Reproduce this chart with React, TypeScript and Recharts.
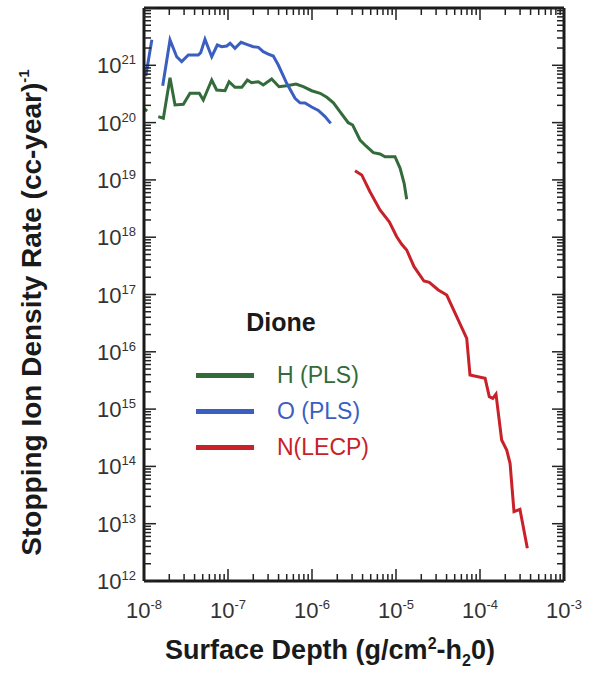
import React from 'react';
import { LineChart, Line, XAxis, YAxis, Legend } from 'recharts';

// ---- axis ticks / labels ----
const xTickValues = [1e-8, 1e-7, 1e-6, 1e-5, 1e-4, 1e-3];
const xTickExponents = ['-8', '-7', '-6', '-5', '-4', '-3'];
const yTickValues = [1e12, 1e13, 1e14, 1e15, 1e16, 1e17, 1e18, 1e19, 1e20, 1e21];
const yTickExponents = ['12', '13', '14', '15', '16', '17', '18', '19', '20', '21'];
const xDomain = [1e-8, 1e-3];
const yDomain = [1e12, 1e22];

// ---- series: H (PLS) ----
const hDepth = [1.0e-8, 1.09e-8, 1.3e-8, 1.48e-8, 1.7e-8, 2.04e-8, 2.34e-8, 2.94e-8, 3.53e-8, 4.55e-8, 5.08e-8, 6.4e-8, 7.33e-8, 9.21e-8, 1.03e-7, 1.21e-7, 1.46e-7, 1.7e-7, 1.91e-7, 2.3e-7, 2.63e-7, 3.31e-7, 4.05e-7, 5.0e-7, 6.45e-7, 7.87e-7, 9.91e-7, 1.25e-6, 1.5e-6, 1.8e-6, 2.15e-6, 2.7e-6, 3.05e-6, 3.73e-6, 4.39e-6, 5.37e-6, 6.45e-6, 7.4e-6, 9.73e-6, 1.12e-5, 1.25e-5, 1.34e-5];
const hRate = [1.76e20, 1.59e20, null, 1.27e20, 1.19e20, 6.08e20, 2.03e20, 2.09e20, 3.25e20, 3.25e20, 2.48e20, 5.54e20, 3.71e20, 3.6e20, 5.17e20, 4.13e20, 4.13e20, 5.54e20, 4.97e20, 5.17e20, 4.53e20, 5.77e20, 4.23e20, 4.41e20, 4.72e20, 4.23e20, 3.6e20, 3.25e20, 2.77e20, 2.22e20, 1.55e20, 9.96e19, 9.08e19, 4.97e19, 3.91e19, 2.99e19, 2.83e19, 2.54e19, 2.54e19, 1.59e19, 8.73e18, 4.59e18];

// ---- series: O (PLS) ----
const oDepth = [1.05e-8, 1.24e-8, 1.45e-8, 1.67e-8, 2.04e-8, 2.45e-8, 2.81e-8, 3.37e-8, 4.43e-8, 4.73e-8, 5.32e-8, 6.4e-8, 7.46e-8, 8.41e-8, 9.66e-8, 1.06e-7, 1.21e-7, 1.43e-7, 1.67e-7, 2.0e-7, 2.3e-7, 2.63e-7, 3.02e-7, 3.46e-7, 3.97e-7, 5.0e-7, 6.28e-7, 7.2e-7, 8.26e-7, 9.91e-7, 1.19e-6, 1.43e-6, 1.67e-6];
const oRate = [6.5e20, 2.8e21, null, 4.4e20, 2.77e21, 1.41e21, 1.16e21, 1.51e21, 1.51e21, 1.66e21, 2.84e21, 1.41e21, 2.26e21, 2.11e21, 2.17e21, 2.42e21, 1.98e21, 2.52e21, 2.32e21, 2.11e21, 2.06e21, 1.73e21, 1.57e21, 1.45e21, 1.01e21, 4.85e20, 2.65e20, 2.22e20, 2.2e20, 1.87e20, 1.63e20, 1.27e20, 9.7e19];

// ---- series: N (LECP) ----
const nDepth = [3.25e-6, 3.91e-6, 4.9e-6, 6.45e-6, 8.32e-6, 1.02e-5, 1.17e-5, 1.34e-5, 1.64e-5, 2.15e-5, 2.49e-5, 3.19e-5, 4.02e-5, 5.28e-5, 6.95e-5, 7.6e-5, 1.15e-4, 1.29e-4, 1.42e-4, 1.55e-4, 1.81e-4, 2.08e-4, 2.28e-4, 2.54e-4, 2.99e-4, 3.66e-4];
const nRate = [1.45e19, 1.22e19, 6.22e18, 2.98e18, 1.86e18, 1.02e18, 7.52e17, 5.98e17, 3.06e17, 1.72e17, 1.63e17, 1.2e17, 9.8e16, 4.1e16, 1.72e16, 3.94e15, 3.45e15, 1.65e15, 1.54e15, 1.83e15, 2.89e14, 1.93e14, 1.13e14, 1.62e13, 1.78e13, 3.72e12];

const seriesNames = ['H (PLS)', 'O (PLS)', 'N(LECP)'];
const seriesColors = ['#336b3b', '#3b5fc1', '#c8212a'];
const legendTitle = 'Dione';

const toRows = (xs: number[], ys: (number | null)[]) => xs.map((d, i) => ({ depth: d, rate: ys[i] }));
const hData = toRows(hDepth, hRate);
const oData = toRows(oDepth, oRate);
const nData = toRows(nDepth, nRate);

// minor tick positions (1..9 x 10^n)
const minorTicks = (lo: number, hi: number) => {
  const out: number[] = [];
  for (let e = lo; e <= hi; e++) {
    for (let m = 1; m <= 9; m++) {
      if (e === hi && m > 1) break;
      out.push(m * Math.pow(10, e));
    }
  }
  return out;
};
const xMinor = minorTicks(-8, -3);
const yMinor = minorTicks(12, 22);

const FONT = '"Liberation Sans", Arial, Helvetica, sans-serif';
const TICK_COLOR = '#333333';

const findIdx = (arr: number[], v: number) => arr.findIndex((a) => Math.abs(a - v) / a < 1e-6);
const isDecade = (v: number) => {
  const l = Math.log10(v);
  return Math.abs(l - Math.round(l)) < 1e-6;
};

const XTick = (props: any) => {
  const { x, y, payload } = props;
  const i = findIdx(xTickValues, payload.value);
  return (
    <text x={x} y={y} textAnchor="middle" dominantBaseline="central" fontFamily={FONT} fill={TICK_COLOR}>
      <tspan fontSize={22}>10</tspan>
      <tspan fontSize={13} dy={-6}>{xTickExponents[i]}</tspan>
    </text>
  );
};

const YTick = (props: any) => {
  const { x, y, payload } = props;
  const i = findIdx(yTickValues, payload.value);
  return (
    <text x={x} y={y} textAnchor="end" dominantBaseline="central" fontFamily={FONT} fill={TICK_COLOR}>
      <tspan fontSize={22}>10</tspan>
      <tspan fontSize={13} dy={-6}>{yTickExponents[i]}</tspan>
    </text>
  );
};

const makeInnerTick = (side: 'left' | 'right' | 'top' | 'bottom') => (props: any) => {
  const { x, y, payload } = props;
  const len = isDecade(payload.value) ? 12 : 7;
  let x2 = x;
  let y2 = y;
  if (side === 'left') x2 = x + len;
  if (side === 'right') x2 = x - len;
  if (side === 'top') y2 = y + len;
  if (side === 'bottom') y2 = y - len;
  return <line x1={x} y1={y} x2={x2} y2={y2} stroke="#222" strokeWidth={1.5} />;
};

const YTitle = (props: any) => {
  const vb = props.viewBox || { x: 0, y: 8, width: 144, height: 573 };
  const cx = vb.x + 41;
  const cy = vb.y + vb.height / 2 + 18;
  return (
    <text
      x={cx}
      y={cy}
      transform={`rotate(-90, ${cx}, ${cy})`}
      textAnchor="middle"
      fontFamily={FONT}
      fontWeight="bold"
      fontSize={28}
      fill="#1a1a1a"
    >
      Stopping Ion Density Rate (cc-year)
      <tspan fontSize={15} dy={-12}>-1</tspan>
    </text>
  );
};

const XTitle = (props: any) => {
  const vb = props.viewBox || { x: 144, y: 581, width: 420, height: 94 };
  const cx = vb.x + vb.width / 2 - 24;
  const cy = vb.y + 78;
  return (
    <text x={cx} y={cy} textAnchor="middle" fontFamily={FONT} fontWeight="bold" fontSize={27} fill="#1a1a1a">
      Surface Depth (g/cm
      <tspan fontSize={16} dy={-10}>2</tspan>
      <tspan dy={10}>-h</tspan>
      <tspan fontSize={16} dy={7}>2</tspan>
      <tspan dy={-7}>0)</tspan>
    </text>
  );
};

const LegendContent = (props: any) => {
  const payload = props.payload || [];
  const items = seriesNames
    .map((n) => payload.find((p: any) => p.value === n))
    .filter(Boolean);
  return (
    <div style={{ fontFamily: FONT }}>
      <div style={{ width: 170, height: 44, lineHeight: '44px', textAlign: 'center', fontWeight: 'bold', fontSize: 25, color: '#1a1a1a' }}>
        {legendTitle}
      </div>
      <div style={{ height: 13 }} />
      {items.map((it: any) => (
        <div key={it.value} style={{ display: 'flex', alignItems: 'center', height: 36 }}>
          <span style={{ display: 'inline-block', width: 58, height: 5, background: it.color }} />
          <span style={{ marginLeft: 23, fontSize: 23, color: it.color, whiteSpace: 'nowrap' }}>{it.value}</span>
        </div>
      ))}
    </div>
  );
};

export default function App() {
  return (
    <div style={{ position: 'absolute', left: 0, top: 0, background: '#fff' }}>
      <LineChart width={600} height={675} margin={{ top: 8, right: 36, bottom: 0, left: 0 }}>
        <XAxis
          dataKey="depth"
          type="number"
          scale="log"
          domain={xDomain}
          allowDataOverflow
          ticks={xTickValues}
          interval={0}
          height={94}
          tickSize={0}
          tickMargin={29}
          tickLine={false}
          tick={<XTick />}
          axisLine={{ stroke: '#1a1a1a', strokeWidth: 3 }}
          label={<XTitle />}
        />
        <XAxis
          xAxisId="xb"
          dataKey="depth"
          type="number"
          scale="log"
          domain={xDomain}
          allowDataOverflow
          ticks={xMinor}
          interval={0}
          orientation="bottom"
          mirror
          height={1}
          tickSize={0}
          tickMargin={0}
          tickLine={false}
          axisLine={false}
          tick={makeInnerTick('bottom')}
        />
        <XAxis
          xAxisId="xt"
          dataKey="depth"
          type="number"
          scale="log"
          domain={xDomain}
          allowDataOverflow
          ticks={xMinor}
          interval={0}
          orientation="top"
          mirror
          height={1}
          tickSize={0}
          tickMargin={0}
          tickLine={false}
          axisLine={{ stroke: '#1a1a1a', strokeWidth: 3 }}
          tick={makeInnerTick('top')}
        />
        <YAxis
          type="number"
          scale="log"
          domain={yDomain}
          allowDataOverflow
          ticks={yTickValues}
          interval={0}
          width={144}
          tickSize={0}
          tickMargin={8}
          tickLine={false}
          tick={<YTick />}
          axisLine={{ stroke: '#1a1a1a', strokeWidth: 3 }}
          label={<YTitle />}
        />
        <YAxis
          yAxisId="yl"
          type="number"
          scale="log"
          domain={yDomain}
          allowDataOverflow
          ticks={yMinor}
          interval={0}
          orientation="left"
          mirror
          width={1}
          tickSize={0}
          tickMargin={0}
          tickLine={false}
          axisLine={false}
          tick={makeInnerTick('left')}
        />
        <YAxis
          yAxisId="yr"
          type="number"
          scale="log"
          domain={yDomain}
          allowDataOverflow
          ticks={yMinor}
          interval={0}
          orientation="right"
          mirror
          width={1}
          tickSize={0}
          tickMargin={0}
          tickLine={false}
          axisLine={{ stroke: '#1a1a1a', strokeWidth: 3 }}
          tick={makeInnerTick('right')}
        />
        <Line data={hData} dataKey="rate" name={seriesNames[0]} stroke={seriesColors[0]} strokeWidth={3} dot={false} isAnimationActive={false} connectNulls={false} />
        <Line data={oData} dataKey="rate" name={seriesNames[1]} stroke={seriesColors[1]} strokeWidth={3} dot={false} isAnimationActive={false} connectNulls={false} />
        <Line data={nData} dataKey="rate" name={seriesNames[2]} stroke={seriesColors[2]} strokeWidth={3} dot={false} isAnimationActive={false} connectNulls={false} />
        <Legend
          layout="vertical"
          align="center"
          verticalAlign="middle"
          content={<LegendContent />}
          wrapperStyle={{ left: 196, top: 300, width: 220, height: 170 }}
        />
      </LineChart>
    </div>
  );
}
